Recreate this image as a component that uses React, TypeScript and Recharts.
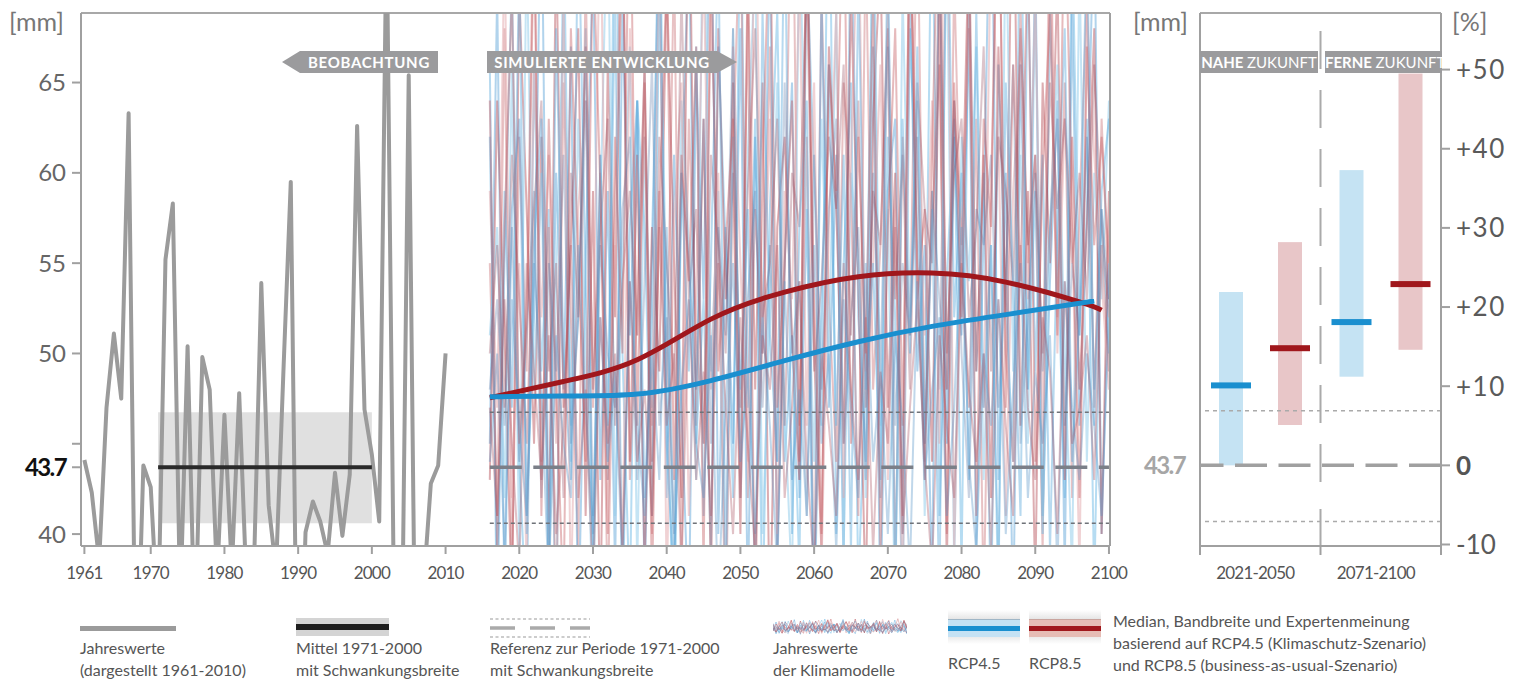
import React from 'react';
import { ComposedChart, LineChart, Line, Bar, XAxis, YAxis, ReferenceLine, ReferenceArea } from 'recharts';

const FONT = 'Lato, "Open Sans", "DejaVu Sans", sans-serif';

// ---------- observation 1961-2010 (mm) ----------
const obsStartYear = 1961;
const obsValues = [
  44.1, 42.3, 38.5, 47.0, 51.1, 47.5, 63.3, 30, 43.8, 42.6,
  35, 55.2, 58.3, 36, 50.4, 34, 49.8, 48.0, 37.5, 46.6,
  38, 47.8, 37, 38, 53.9, 41.6, 38, 49, 59.5, 26,
  40.1, 41.8, 40.7, 38.9, 43.4, 39.9, 43.3, 62.6, 46.9, 44.4,
  40.7, 74, 36, 31, 65.4, 28, 37, 42.8, 43.8, 50.0,
];
const meanValue = 43.7;
const meanStart = 1971;
const meanEnd = 2000;
const bandLow = 40.6;
const bandHigh = 46.75;

// ---------- climate model annual values 2016-2100 (mm) ----------
const simStartYear = 2016;
const simEndYear = 2100;
const rcp45Models = [
  [62,38,55,71,44, 35,66,49,58,33, 75,46,52,68,37, 61,43,79,50,36, 64,57,41,70,48, 34,59,73,45,53, 39,67,56,42,76, 47,63,35,58,69, 44,51,38,72,60, 46,81,40,55,65, 37,49,74,43,62, 52,36,68,57,45, 78,41,54,63,38, 71,49,60,35,66, 53,44,77,48,59, 40,69,56,42,74, 51,63,37,58,50],
  [45,70,36,58,63, 41,52,77,39,60, 48,67,34,55,72, 43,59,38,69,51, 64,37,56,74,42, 61,47,35,66,53, 79,40,57,45,68, 36,62,50,73,39, 55,65,42,58,34, 70,47,61,38,76, 52,44,67,35,59, 63,40,71,49,56, 37,74,45,62,51, 68,39,57,80,43, 60,35,66,48,72, 41,54,64,38,69, 46,58,75,40,55],
  [51,57,42,66,39, 73,48,60,37,54, 69,44,63,50,35, 58,76,41,55,67, 38,62,47,71,53, 36,64,56,43,78, 49,59,34,68,45, 61,72,40,52,65, 47,37,74,57,44, 63,50,69,39,60, 55,42,77,46,58, 35,70,52,64,41, 59,48,73,38,62, 54,67,43,56,36, 75,49,61,45,70, 40,57,66,50,38, 72,44,60,53,64],
  [48,53,46,57,44, 51,59,42,55,49, 61,45,52,64,41, 56,50,47,58,62, 43,54,66,46,52, 40,60,55,48,63, 45,57,51,68,42, 53,59,47,56,44, 65,50,54,41,61, 48,58,63,45,52, 57,43,60,49,67, 46,55,51,62,44, 59,53,48,64,50, 42,58,56,61,47, 54,66,45,52,60, 49,57,63,46,55, 51,62,48,58,53],
  [66,34,59,47,72, 40,56,63,37,68, 50,43,75,54,39, 61,46,70,35,57, 64,42,52,78,45, 37,60,49,67,41, 55,73,38,62,48, 58,36,69,51,44, 76,40,57,64,35, 53,66,46,61,39, 71,48,55,42,74, 37,63,50,67,45, 58,36,79,52,60, 43,69,47,56,38, 65,54,41,72,49, 61,39,57,68,44, 52,74,46,59,63],
  [44,50,39,53,46, 41,55,48,37,51, 45,42,56,47,40, 52,44,49,38,54, 46,41,50,43,57, 39,48,53,45,42, 51,36,47,55,44, 49,40,52,46,38, 54,43,48,41,56, 45,50,39,53,47, 42,55,44,49,40, 51,46,38,54,43, 48,52,41,47,57, 44,39,50,46,53, 40,48,55,42,49, 45,51,38,54,47, 43,50,46,41,52],
];
const rcp85Models = [
  [55,41,68,37,62, 49,74,44,57,35, 65,52,39,71,47, 60,36,58,77,43, 53,66,40,59,48, 72,38,63,51,45, 69,56,34,61,75, 42,58,50,67,39, 54,80,46,62,37, 70,53,44,65,59, 41,73,48,56,68, 38,62,51,76,45, 57,66,40,71,54, 47,63,36,59,78, 50,44,69,55,61, 39,74,52,65,42, 58,70,47,63,53],
  [43,64,51,36,70, 58,45,62,39,73, 47,56,68,41,59, 35,66,52,75,44, 61,38,57,49,71, 55,42,79,46,63, 37,68,53,60,40, 72,48,65,34,57, 62,51,43,76,50, 39,67,58,45,70, 54,36,63,72,47, 60,41,77,53,58, 44,69,38,64,56, 73,49,61,42,67, 52,80,46,59,37, 65,55,71,43,62, 48,57,68,40,59],
  [59,47,73,42,55, 38,66,52,61,45, 70,36,58,64,49, 76,43,56,39,68, 51,62,46,74,37, 57,65,41,53,72, 48,60,35,67,55, 44,78,50,63,40, 59,53,71,46,65, 38,57,69,42,61, 75,49,55,66,43, 58,36,72,60,51, 64,45,80,39,56, 68,52,47,74,62, 41,59,66,53,70, 45,77,50,63,57, 38,69,61,54,48],
  [50,56,47,61,53, 45,58,64,49,55, 42,60,52,67,48, 57,63,46,54,59, 51,66,44,62,55, 48,70,53,58,45, 61,56,50,65,47, 59,68,52,55,63, 46,60,57,71,49, 54,62,58,66,51, 64,47,59,56,69, 53,61,48,65,58, 55,72,50,60,63, 52,57,67,49,62, 59,54,68,56,61, 50,65,58,63,55, 60,53,66,57,52],
  [64,39,57,70,45, 52,76,41,63,48, 36,68,55,44,73, 59,40,62,50,79, 46,65,37,58,71, 43,61,54,67,38, 74,49,56,63,42, 69,35,60,75,47, 55,64,44,72,53, 40,66,59,77,45, 62,50,70,39,57, 68,46,74,55,43, 61,78,48,65,52, 71,41,63,57,80, 47,66,54,73,44, 60,69,51,76,58, 42,67,56,62,55],
  [47,41,53,45,38, 55,49,43,51,40, 46,56,42,48,37, 52,45,50,39,54, 44,48,41,57,46, 50,38,53,43,49, 41,55,47,40,52, 45,39,51,48,56, 42,47,54,44,38, 50,46,41,55,48, 43,52,39,49,45, 57,40,47,53,44, 38,51,46,42,55, 48,44,50,39,53, 46,41,56,47,43, 52,49,40,54,45, 47,51,43,56,49],
];
const rcp45Colors = ['rgba(110,185,230,0.5)', 'rgba(70,150,210,0.42)', 'rgba(150,205,235,0.55)', 'rgba(80,110,160,0.3)', 'rgba(95,170,220,0.45)', 'rgba(90,150,200,0.38)'];
const rcp85Colors = ['rgba(205,120,125,0.45)', 'rgba(175,60,70,0.42)', 'rgba(225,165,170,0.5)', 'rgba(140,60,80,0.3)', 'rgba(195,90,95,0.42)', 'rgba(170,80,95,0.35)'];

// ---------- smoothed medians ----------
const rcp45SmoothYears = [2016, 2026, 2036, 2046, 2056, 2066, 2076, 2086, 2098];
const rcp45SmoothValues = [47.6, 47.65, 47.75, 48.5, 49.6, 50.65, 51.5, 52.15, 52.9];
const rcp85SmoothYears = [2016, 2026, 2036, 2046, 2056, 2066, 2076, 2086, 2096, 2099];
const rcp85SmoothValues = [47.55, 48.45, 49.65, 51.9, 53.4, 54.25, 54.45, 53.95, 52.85, 52.4];

// ---------- axes ----------
const xTicks = [1961, 1970, 1980, 1990, 2000, 2010, 2020, 2030, 2040, 2050, 2060, 2070, 2080, 2090, 2100];
const yTicks = [40, 43.7, 45, 50, 55, 60, 65];
const xMin = 1960.54;
const xMax = 2100.14;
const yMin = 39.34;
const yMax = 68.85;

// ---------- right panel (% change vs 1971-2000) ----------
const periods = ['2021-2050', '2071-2100'];
const rcp45Low = [0, 11.2];
const rcp45High = [21.9, 37.3];
const rcp45Median = [10.1, 18.1];
const rcp85Low = [5.1, 14.6];
const rcp85High = [28.2, 49.5];
const rcp85Median = [14.8, 22.9];
const pctTicks = [-10, 0, 10, 20, 30, 40, 50];
const pctMin = -10.19;
const pctMax = 57.15;
const pctBandHigh = 6.9;
const pctBandLow = -7.1;

// ---------- tables ----------
const rows: Record<number, any> = {};
const row = (y: number) => rows[y] ?? (rows[y] = { year: y });
obsValues.forEach((v, i) => { row(obsStartYear + i).obs = v; });
rcp45Models.forEach((s, k) => s.forEach((v, i) => { row(simStartYear + i)[`b${k}`] = v; }));
rcp85Models.forEach((s, k) => s.forEach((v, i) => { row(simStartYear + i)[`r${k}`] = v; }));
rcp45SmoothYears.forEach((y, i) => { row(y).s45 = rcp45SmoothValues[i]; });
rcp85SmoothYears.forEach((y, i) => { row(y).s85 = rcp85SmoothValues[i]; });
const mainTable = Object.values(rows).sort((a: any, b: any) => a.year - b.year);

const legendTable = mainTable.filter((r: any) => r.year >= simStartYear && r.year < simStartYear + 45);

const periodTable = periods.map((p, i) => ({
  period: p,
  r45: [rcp45Low[i], rcp45High[i]],
  r85: [rcp85Low[i], rcp85High[i]],
  m45: rcp45Median[i],
  m85: rcp85Median[i],
}));

const modelOrder: { key: string; color: string }[] = [];
rcp45Models.forEach((_, k) => {
  modelOrder.push({ key: `b${k}`, color: rcp45Colors[k] });
  modelOrder.push({ key: `r${k}`, color: rcp85Colors[k] });
});

// ---------- ticks ----------
const XTick = (p: any) => (
  <text x={p.x} y={p.y} dy="0.75em" dx={p.dxShift || 0} textAnchor="middle" fontSize={17} fill="#555" fontFamily={FONT} style={{ letterSpacing: '-0.8px' }}>
    {p.payload.value}
  </text>
);

// category tick: label plus boundary tick marks derived from the axis band width
const PeriodTick = (p: any) => {
  const bw = (p.width || 0) / periods.length;
  const axisY = p.y - 8 - 12;
  const last = p.index === periods.length - 1;
  return (
    <g>
      <line x1={p.x - bw / 2} y1={axisY} x2={p.x - bw / 2} y2={axisY + 9} stroke="#a0a0a0" strokeWidth={2} />
      {last && <line x1={p.x + bw / 2} y1={axisY} x2={p.x + bw / 2} y2={axisY + 9} stroke="#a0a0a0" strokeWidth={2} />}
      <XTick {...p} dxShift={-5} />
    </g>
  );
};

const LeftTick = (p: any) => {
  const v = p.payload.value;
  if (v === 45) return <g />;
  const isMean = v === meanValue;
  return (
    <text x={p.x} y={p.y} dy="0.36em" textAnchor="end" fontSize={24} fontWeight={isMean ? 700 : 400} fill={isMean ? '#111' : '#666'} fontFamily={FONT} style={{ letterSpacing: isMean ? '-1.6px' : '0px' }}>
      {isMean ? v.toFixed(1) : v}
    </text>
  );
};

const MeanTickRight = (p: any) => (
  <text x={p.x} y={p.y} dy="0.36em" textAnchor="end" fontSize={24} fontWeight={700} fill="#a6a6a6" fontFamily={FONT} style={{ letterSpacing: '-1.6px' }}>
    {meanValue.toFixed(1)}
  </text>
);

const PctTick = (p: any) => {
  const v = p.payload.value;
  const label = v > 0 ? `+${v}` : `${v}`;
  return (
    <text x={p.x} y={p.y} dy="0.36em" textAnchor="start" fontSize={26} fontWeight={v === 0 ? 700 : 400} fill={v === 0 ? '#555' : '#5a5a5a'} fontFamily={FONT} style={{ letterSpacing: v > 0 ? '1.5px' : '0px' }}>
      {label}
    </text>
  );
};

const makeShape = (rangeKey: string, medianKey: string, medianColor: string) => (props: any) => {
  const { x, y, width, height, fill, payload } = props;
  const [lo, hi] = payload[rangeKey];
  const med = payload[medianKey];
  const top = Math.min(y, y + height);
  const h = Math.abs(height);
  const my = top + (h * (hi - med)) / (hi - lo);
  return (
    <g>
      <rect x={x} y={top} width={width} height={h} fill={fill} />
      <rect x={x - 8} y={my - 3} width={width + 16} height={6} fill={medianColor} />
    </g>
  );
};

const abs = (l: number, t: number, extra: React.CSSProperties = {}): React.CSSProperties => ({ position: 'absolute', left: l, top: t, ...extra });
const legendText: React.CSSProperties = { fontSize: 16, lineHeight: '22px', color: '#555', fontFamily: FONT, whiteSpace: 'nowrap' };
const boxText: React.CSSProperties = { color: '#fff', fontFamily: FONT, fontSize: 15, lineHeight: '22px', fontWeight: 700, letterSpacing: '0.7px', whiteSpace: 'nowrap', background: '#9b9b9d' };

const divider = '37 27 ' + '38 21 '.repeat(9);

export default function App() {
  return (
    <div style={{ position: 'absolute', left: 0, top: 0, width: 1521, height: 680, background: '#fff', fontFamily: FONT, overflow: 'hidden' }}>
      {/* main chart */}
      <div style={abs(0, 0)}>
        <ComposedChart width={1130} height={600} data={mainTable} margin={{ top: 13, right: 20, bottom: 0, left: 0 }}>
          <XAxis dataKey="year" type="number" domain={[xMin, xMax]} allowDataOverflow ticks={xTicks} interval={0} height={54}
            stroke="#a0a0a0" strokeWidth={2} tickSize={8} tickMargin={12} tick={(p: any) => <XTick {...p} />} />
          <YAxis type="number" domain={[yMin, yMax]} allowDataOverflow ticks={yTicks} interval={0} width={81}
            stroke="#a0a0a0" strokeWidth={2} tickSize={9} tickMargin={6} tick={(p: any) => <LeftTick {...p} />} />
          <ReferenceArea x1={meanStart} x2={meanEnd} y1={bandLow} y2={bandHigh} fill="#e0e0e0" fillOpacity={1} stroke="none" />
          {modelOrder.map((m) => (
            <Line key={m.key} dataKey={m.key} stroke={m.color} strokeWidth={2} dot={false} activeDot={false} isAnimationActive={false} />
          ))}
          <ReferenceLine y={yMax} stroke="#a8a8a8" strokeWidth={2} />
          <ReferenceLine x={xMax} stroke="#a0a0a0" strokeWidth={2} />
          <ReferenceLine segment={[{ x: simStartYear, y: bandHigh }, { x: simEndYear, y: bandHigh }]} stroke="#6f7278" strokeWidth={1.5} strokeDasharray="4 3" />
          <ReferenceLine segment={[{ x: simStartYear, y: bandLow }, { x: simEndYear, y: bandLow }]} stroke="#6f7278" strokeWidth={1.5} strokeDasharray="4 3" />
          <ReferenceLine segment={[{ x: simStartYear, y: meanValue }, { x: simEndYear, y: meanValue }]} stroke="#7b7f88" strokeWidth={3.5} strokeDasharray="32 11.5" />
          <Line dataKey="obs" stroke="#9b9b9b" strokeWidth={4} dot={false} activeDot={false} strokeLinejoin="round" isAnimationActive={false} />
          <ReferenceLine segment={[{ x: meanStart, y: meanValue }, { x: meanEnd, y: meanValue }]} stroke="#2a2a2a" strokeWidth={4} />
          <Line dataKey="s85" type="natural" connectNulls stroke="#a0171c" strokeWidth={5} dot={false} activeDot={false} isAnimationActive={false} />
          <Line dataKey="s45" type="natural" connectNulls stroke="#1a8fcf" strokeWidth={5} dot={false} activeDot={false} isAnimationActive={false} />
        </ComposedChart>
      </div>

      {/* right panel */}
      <div style={abs(1120, 0)}>
        <ComposedChart width={400} height={600} data={periodTable} margin={{ top: 13, right: 0, bottom: 0, left: 0 }} barGap={35} barSize={24}>
          <XAxis xAxisId="cat" dataKey="period" type="category" height={54} axisLine={{ stroke: '#a0a0a0', strokeWidth: 2 }} tickLine={false}
            tickSize={8} tickMargin={12} tick={(p: any) => <PeriodTick {...p} />} />
          <YAxis yAxisId="l" type="number" domain={[pctMin, pctMax]} allowDataOverflow ticks={[0]} width={80} stroke="#a0a0a0" strokeWidth={2}
            tickLine={false} tickSize={9} tickMargin={6} tick={(p: any) => <MeanTickRight {...p} />} />
          <YAxis yAxisId="r" orientation="right" type="number" domain={[pctMin, pctMax]} allowDataOverflow ticks={pctTicks} interval={0} width={79}
            stroke="#a0a0a0" strokeWidth={2} tickSize={9} tickMargin={6} tick={(p: any) => <PctTick {...p} />} />
          <Bar xAxisId="cat" yAxisId="r" dataKey="r45" fill="#c5e3f3" isAnimationActive={false} shape={makeShape('r45', 'm45', '#1a8fcf')} />
          <Bar xAxisId="cat" yAxisId="r" dataKey="r85" fill="#e8c6c8" isAnimationActive={false} shape={makeShape('r85', 'm85', '#a0171c')} />
          <ReferenceLine xAxisId="cat" yAxisId="r" y={pctMax} stroke="#a8a8a8" strokeWidth={2} />
          <ReferenceLine xAxisId="cat" yAxisId="r" x={periods[1]} position="start" stroke="#aaaaaa" strokeWidth={2} strokeDasharray={divider} />
          <ReferenceLine xAxisId="cat" yAxisId="r" y={pctBandHigh} stroke="#aaaaaa" strokeWidth={1.5} strokeDasharray="4 4" />
          <ReferenceLine xAxisId="cat" yAxisId="r" y={pctBandLow} stroke="#aaaaaa" strokeWidth={1.5} strokeDasharray="4 4" />
          <ReferenceLine xAxisId="cat" yAxisId="r" y={0} stroke="#a0a0a0" strokeWidth={3.5} strokeDasharray="32 11.5" />
        </ComposedChart>
      </div>

      {/* unit labels */}
      <div style={abs(9, 6, { fontSize: 25, lineHeight: '30px', color: '#777' })}>[mm]</div>
      <div style={abs(1133, 6, { fontSize: 25, lineHeight: '30px', color: '#777' })}>[mm]</div>
      <div style={abs(1452, 6, { fontSize: 25, lineHeight: '30px', color: '#777' })}>[%]</div>

      {/* phase labels */}
      <div style={abs(282, 51, { ...boxText, width: 156, height: 22, clipPath: 'polygon(18px 0, 100% 0, 100% 100%, 18px 100%, 0 50%)', paddingLeft: 18, boxSizing: 'border-box', textAlign: 'center' })}>BEOBACHTUNG</div>
      <div style={abs(487, 51, { ...boxText, width: 250, height: 22, clipPath: 'polygon(0 0, calc(100% - 20px) 0, 100% 50%, calc(100% - 20px) 100%, 0 100%)', paddingRight: 20, boxSizing: 'border-box', textAlign: 'center' })}>SIMULIERTE ENTWICKLUNG</div>
      <div style={abs(1200, 51, { ...boxText, width: 118, height: 22, textAlign: 'center', letterSpacing: '0px' })}>NAHE <span style={{ fontWeight: 400 }}>ZUKUNFT</span></div>
      <div style={abs(1325, 51, { ...boxText, width: 117, height: 22, textAlign: 'center', letterSpacing: '0px' })}>FERNE <span style={{ fontWeight: 400 }}>ZUKUNFT</span></div>

      {/* legend */}
      <div style={abs(80, 626, { width: 96, height: 5, background: '#9b9b9b' })} />
      <div style={abs(80, 637, legendText)}>Jahreswerte<br />(dargestellt 1961-2010)</div>

      <div style={abs(296, 618, { width: 93, height: 18, background: '#d4d4d4' })}>
        <div style={abs(0, 6, { width: 93, height: 6, background: '#1e1e1e' })} />
      </div>
      <div style={abs(296, 637, legendText)}>Mittel 1971-2000<br />mit Schwankungsbreite</div>

      <svg style={abs(490, 614)} width={102} height={26}>
        <line x1={0} y1={5} x2={100} y2={5} stroke="#999" strokeWidth={1.2} strokeDasharray="3 2.5" />
        <line x1={0} y1={14} x2={100} y2={14} stroke="#aaa" strokeWidth={3.5} strokeDasharray="25 15" />
        <line x1={0} y1={23} x2={100} y2={23} stroke="#999" strokeWidth={1.2} strokeDasharray="3 2.5" />
      </svg>
      <div style={abs(490, 637, legendText)}>Referenz zur Periode 1971-2000<br />mit Schwankungsbreite</div>

      <div style={abs(773, 617)}>
        <LineChart width={134} height={20} data={legendTable} margin={{ top: 0, right: 0, bottom: 0, left: 0 }}>
          <XAxis dataKey="year" type="number" domain={[simStartYear, simStartYear + 44]} hide />
          <YAxis type="number" domain={[25, 85]} hide />
          {modelOrder.map((m) => (
            <Line key={m.key} dataKey={m.key} stroke={m.color} strokeWidth={1} dot={false} activeDot={false} isAnimationActive={false} />
          ))}
        </LineChart>
      </div>
      <div style={abs(773, 637, legendText)}>Jahreswerte<br />der Klimamodelle</div>

      <div style={abs(948, 610, { width: 72, height: 34, background: 'linear-gradient(to bottom, #fff 0%, #e4e4e4 28%, #e4e4e4 72%, #fff 100%)' })}>
        <div style={abs(0, 9, { width: 72, height: 17, background: '#c5e2f4', borderTop: '1px solid #9fb6c6' })} />
        <div style={abs(0, 16, { width: 72, height: 5, background: '#1a8fcf' })} />
      </div>
      <div style={abs(1029, 610, { width: 72, height: 34, background: 'linear-gradient(to bottom, #fff 0%, #e4e4e4 28%, #e4e4e4 72%, #fff 100%)' })}>
        <div style={abs(0, 9, { width: 72, height: 17, background: '#e6bcb5', borderTop: '1px solid #c9a49e' })} />
        <div style={abs(0, 16, { width: 72, height: 5, background: '#a0171c' })} />
      </div>
      <div style={abs(948, 652, legendText)}>RCP4.5</div>
      <div style={abs(1029, 652, legendText)}>RCP8.5</div>
      <div style={abs(1113, 610, legendText)}>
        Median, Bandbreite und Expertenmeinung<br />basierend auf RCP4.5 (Klimaschutz-Szenario)<br />und RCP8.5 (business-as-usual-Szenario)
      </div>
    </div>
  );
}
